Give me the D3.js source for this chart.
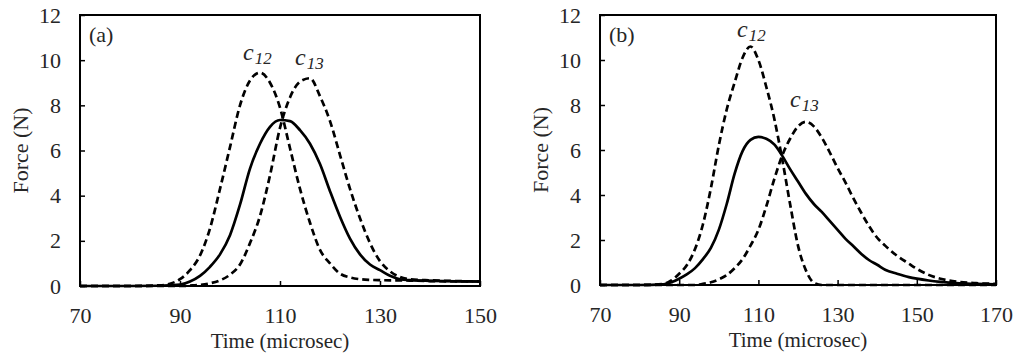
<!DOCTYPE html>
<html>
<head>
<meta charset="utf-8">
<script src="https://cdn.jsdelivr.net/npm/d3@7"></script>
<style>
  body { margin: 0; background: #fff; }
  text { font-family: "Liberation Serif", "Times New Roman", serif; fill: #262626; }
</style>
</head>
<body>
<div id="chart"></div>
<script>
// panel (a) data
var timeA = [70, 80, 86, 88, 90, 92, 94, 96, 98, 100, 102, 104, 106, 108, 110, 112, 114, 116, 118, 120, 122, 124, 126, 128, 130, 132, 134, 136, 140, 145, 150];
var c12A = [0, 0, 0.03, 0.1, 0.3, 0.7, 1.35, 2.55, 4.3, 6.15, 8.0, 9.1, 9.45, 9.0, 7.9, 6.1, 4.3, 2.8, 1.6, 1.0, 0.55, 0.38, 0.3, 0.27, 0.26, 0.25, 0.25, 0.24, 0.22, 0.2, 0.2];
var c13A = [0, 0, 0, 0, 0, 0.02, 0.05, 0.12, 0.25, 0.5, 0.95, 1.9, 3.1, 4.9, 7.0, 8.35, 9.05, 9.2, 8.4, 7.3, 5.8, 4.3, 3.0, 1.9, 1.1, 0.65, 0.4, 0.3, 0.25, 0.22, 0.2];
var solidA = [0, 0, 0.01, 0.03, 0.06, 0.2, 0.45, 0.85, 1.4, 2.25, 3.6, 5.2, 6.3, 7.05, 7.35, 7.3, 6.9, 6.3, 5.4, 4.2, 3.07, 2.1, 1.4, 0.95, 0.7, 0.45, 0.3, 0.26, 0.23, 0.21, 0.2];

// panel (b) data
var timeB = [70, 80, 86, 88, 90, 92, 94, 96, 98, 100, 102, 104, 106, 108, 110, 112, 114, 116, 118, 120, 122, 124, 126, 128, 130, 132, 134, 136, 138, 140, 142, 145, 148, 150, 153, 156, 160, 165, 170];
var c12B = [0, 0, 0.05, 0.2, 0.5, 0.9, 1.6, 2.7, 4.3, 6.2, 7.8, 9.0, 10.1, 10.6, 10.0, 8.8, 7.4, 5.6, 3.6, 1.75, 0.65, 0.1, 0, 0, 0, 0, 0, 0, 0, 0, 0, 0, 0, 0, 0, 0, 0, 0, 0];
var c13B = [0, 0, 0, 0, 0, 0, 0, 0.05, 0.12, 0.25, 0.44, 0.75, 1.15, 1.75, 2.45, 3.5, 4.7, 5.75, 6.5, 7.05, 7.25, 7.05, 6.55, 5.9, 5.2, 4.55, 3.85, 3.2, 2.6, 2.1, 1.75, 1.3, 0.95, 0.72, 0.45, 0.28, 0.15, 0.08, 0.05];
var solidB = [0, 0, 0.03, 0.12, 0.28, 0.48, 0.75, 1.15, 1.65, 2.45, 3.6, 4.95, 5.95, 6.45, 6.58, 6.5, 6.25, 5.75, 5.15, 4.6, 4.05, 3.6, 3.25, 2.85, 2.45, 2.05, 1.72, 1.38, 1.1, 0.9, 0.68, 0.5, 0.35, 0.28, 0.2, 0.14, 0.08, 0.05, 0.03];

var yTicks = [0, 2, 4, 6, 8, 10, 12];
var xTicksA = [70, 90, 110, 130, 150];
var xTicksB = [70, 90, 110, 130, 150, 170];

var svg = d3.select("#chart")
  .append("svg")
    .attr("width", 1024)
    .attr("height", 361);

function drawPanel(opt) {
  var g = svg.append("g");

  var x = d3.scaleLinear()
    .domain([opt.xTicks[0], opt.xTicks[opt.xTicks.length - 1]])
    .range([opt.left, opt.right]);
  var y = d3.scaleLinear()
    .domain([0, 12])
    .range([opt.bottom, opt.top]);

  // axes, ticks pointing inside the box
  var xAxis = g.append("g")
    .attr("transform", "translate(0," + opt.bottom + ")")
    .call(d3.axisBottom(x).tickValues(opt.xTicks).tickSize(-5).tickPadding(21).tickFormat(d3.format("d")));
  var yAxis = g.append("g")
    .attr("transform", "translate(" + opt.left + ",0)")
    .call(d3.axisLeft(y).tickValues(yTicks).tickSize(-5).tickPadding(19).tickFormat(d3.format("d")));
  [xAxis, yAxis].forEach(function(a) {
    a.select(".domain").remove();
    a.selectAll(".tick line").attr("stroke", "#000").attr("stroke-width", 1.5);
    a.selectAll(".tick text")
      .style("font-family", "'Liberation Serif', 'Times New Roman', serif")
      .style("font-size", "22px")
      .attr("fill", "#262626");
  });

  // the curves
  var line = d3.line()
    .x(function(d) { return x(d.t); })
    .y(function(d) { return y(d.v); })
    .curve(d3.curveMonotoneX);

  opt.series.forEach(function(s) {
    var pts = opt.time.map(function(t, i) { return {t: t, v: s.values[i]}; });
    g.append("path")
      .datum(pts)
      .attr("fill", "none")
      .attr("stroke", "#000")
      .attr("stroke-width", 2.7)
      .attr("stroke-dasharray", s.dashed ? "7,4" : null)
      .attr("d", line);
  });

  // frame
  g.append("rect")
    .attr("x", opt.left)
    .attr("y", opt.top)
    .attr("width", opt.right - opt.left)
    .attr("height", opt.bottom - opt.top)
    .attr("fill", "none")
    .attr("stroke", "#000")
    .attr("stroke-width", 2);

  // axis titles
  g.append("text")
    .attr("x", (opt.left + opt.right) / 2)
    .attr("y", opt.bottom + 62)
    .attr("text-anchor", "middle")
    .style("font-size", "21px")
    .text("Time (microsec)");
  g.append("text")
    .attr("transform", "translate(" + (opt.left - 52) + "," + ((opt.top + opt.bottom) / 2) + ") rotate(-90)")
    .attr("text-anchor", "middle")
    .style("font-size", "22px")
    .text("Force (N)");

  // panel letter
  g.append("text")
    .attr("x", opt.left + 9)
    .attr("y", opt.top + 27)
    .style("font-size", "22px")
    .text(opt.letter);

  // curve labels
  opt.labels.forEach(function(l) {
    var t = g.append("text")
      .attr("x", l.x)
      .attr("y", l.y)
      .style("font-style", "italic");
    t.append("tspan").style("font-size", "24px").text("c");
    t.append("tspan").attr("dy", 4).attr("dx", 1).style("font-size", "17px").text(l.sub);
  });
}

drawPanel({
  left: 80, right: 480, top: 15, bottom: 286,
  xTicks: xTicksA, time: timeA, letter: "(a)",
  series: [
    {values: c12A, dashed: true},
    {values: c13A, dashed: true},
    {values: solidA, dashed: false}
  ],
  labels: [{x: 243, y: 60, sub: "12"}, {x: 295, y: 65, sub: "13"}]
});

drawPanel({
  left: 600, right: 996, top: 15, bottom: 285,
  xTicks: xTicksB, time: timeB, letter: "(b)",
  series: [
    {values: c12B, dashed: true},
    {values: c13B, dashed: true},
    {values: solidB, dashed: false}
  ],
  labels: [{x: 737, y: 37, sub: "12"}, {x: 790, y: 107, sub: "13"}]
});
</script>
</body>
</html>
